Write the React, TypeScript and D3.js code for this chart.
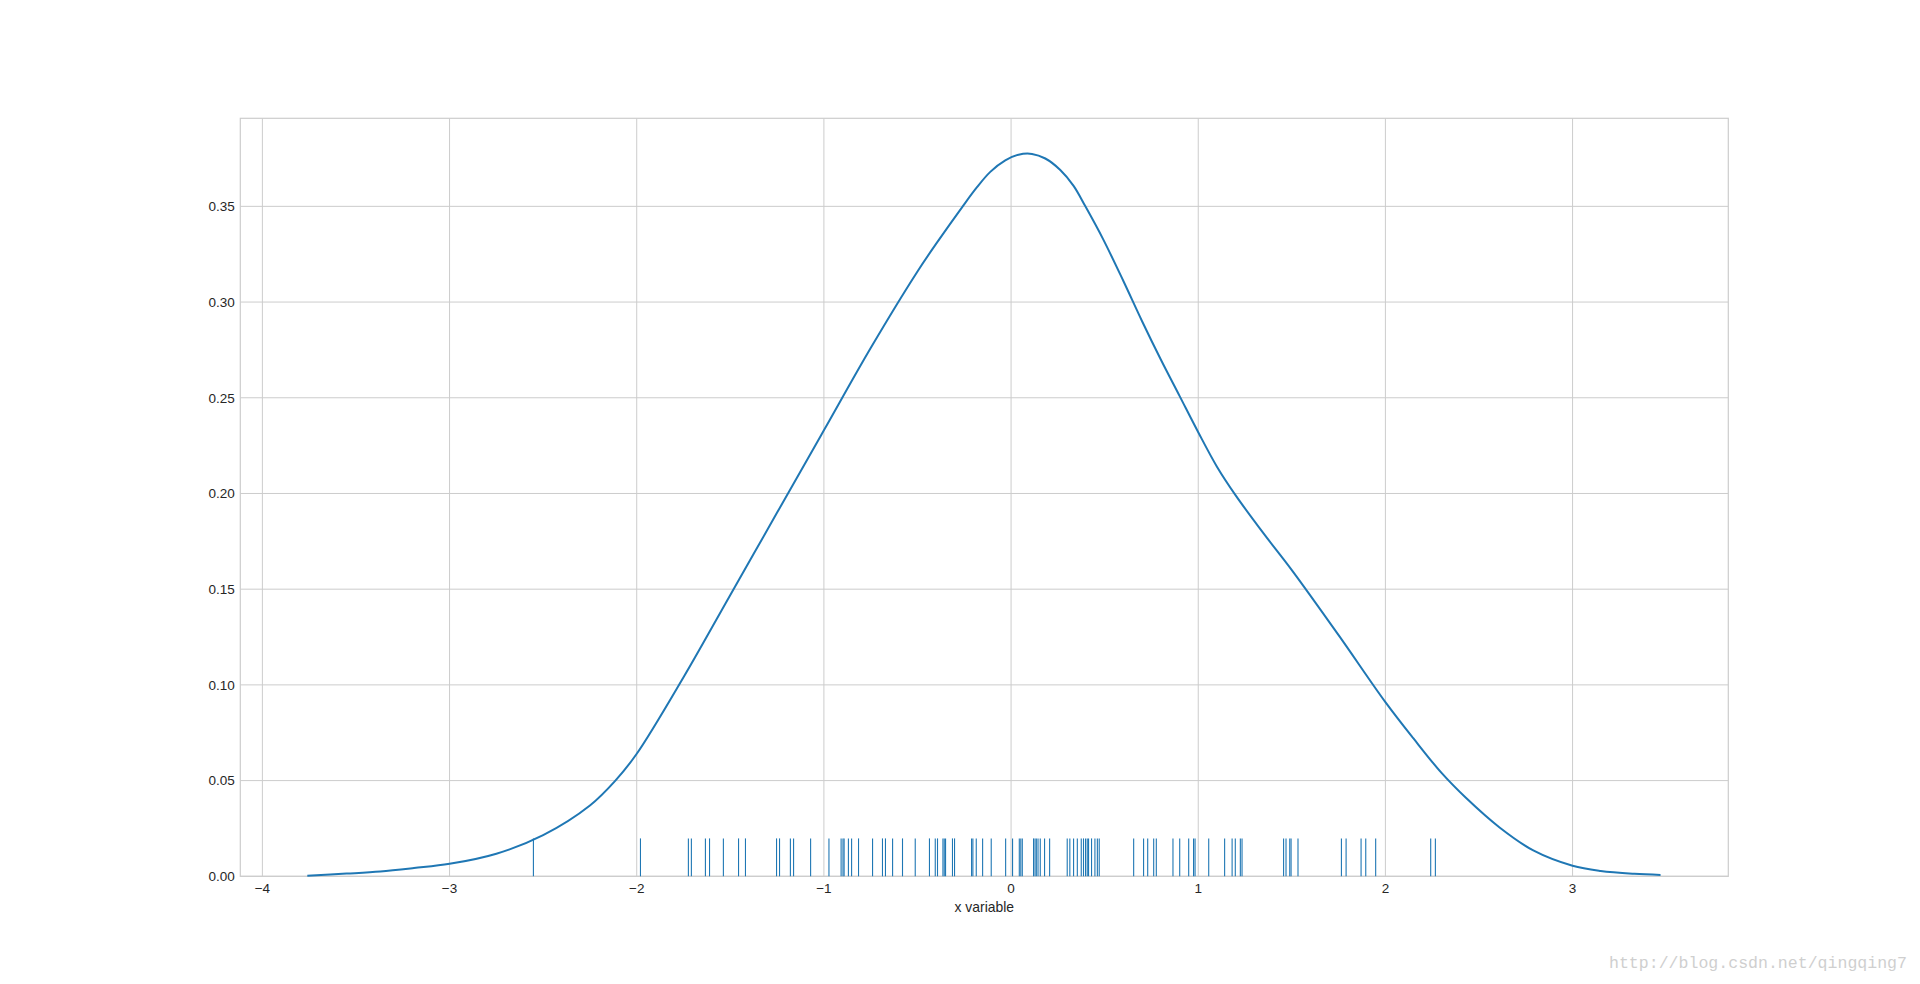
import React from "react";
import * as d3 from "d3";

const W = 1920;
const H = 984;
const plot = { left: 240.3, right: 1728.3, top: 118.3, bottom: 876.3 };

const xDomain = [-4.118, 3.832];
const yDomain = [0, 0.396];
const xTicks = [-4, -3, -2, -1, 0, 1, 2, 3];
const yTicks = [0, 0.05, 0.1, 0.15, 0.2, 0.25, 0.3, 0.35];
const xLabel = "x variable";
const watermark = "http://blog.csdn.net/qingqing7";

// density curve
const kdeX = [
  -3.76, -3.55, -3.37, -3.19, -3.0, -2.75, -2.5, -2.25, -2.114, -2.0,
  -1.75, -1.5, -1.25, -1.0, -0.75, -0.5, -0.382, -0.262, -0.182, -0.111, -0.031,
  0.04, 0.112, 0.183, 0.263, 0.334, 0.397, 0.491, 0.6, 0.7, 0.8, 0.9, 1.0, 1.1,
  1.2, 1.35, 1.5, 1.75, 2.0, 2.15, 2.3, 2.43, 2.61, 2.79, 3.0, 3.15, 3.33, 3.47,
];
const kdeY = [
  0.0003, 0.0014, 0.0025, 0.0043, 0.0065, 0.0118, 0.0215, 0.037, 0.05, 0.064,
  0.104, 0.147, 0.19, 0.233, 0.276, 0.316, 0.333, 0.3495, 0.36, 0.368, 0.374,
  0.377, 0.3774, 0.375, 0.369, 0.3607, 0.35, 0.333, 0.311, 0.29, 0.27, 0.251, 0.232, 0.214,
  0.199, 0.179, 0.16, 0.126, 0.091, 0.072, 0.054, 0.041, 0.0255, 0.0135, 0.0055, 0.0028, 0.0013, 0.0007,
];

// rug observations
const rugValues = [
  -2.552, -1.98, -1.724, -1.708, -1.633, -1.611, -1.537, -1.456, -1.419, -1.253,
  -1.237, -1.179, -1.162, -1.071, -0.973, -0.908, -0.898, -0.892, -0.869, -0.852,
  -0.815, -0.74, -0.687, -0.671, -0.633, -0.58, -0.512, -0.436, -0.405, -0.393,
  -0.364, -0.357, -0.35, -0.313, -0.302, -0.211, -0.204, -0.186, -0.152, -0.106,
  -0.029, 0.008, 0.044, 0.052, 0.06, 0.12, 0.128, 0.135, 0.144, 0.156, 0.179,
  0.206, 0.3, 0.314, 0.334, 0.354, 0.375, 0.387, 0.398, 0.407, 0.414, 0.43,
  0.448, 0.461, 0.471, 0.655, 0.708, 0.73, 0.762, 0.776, 0.865, 0.901, 0.949,
  0.975, 0.983, 1.056, 1.141, 1.181, 1.198, 1.225, 1.234, 1.456, 1.469, 1.489,
  1.496, 1.533, 1.765, 1.79, 1.87, 1.895, 1.948, 2.242, 2.267,
];

const BLUE = "#1f77b4";
const GRID = "#cccccc";
const TEXT = "#262626";
const FONT = "'Liberation Sans', Arial, sans-serif";

export default function App() {
  const x = d3.scaleLinear().domain(xDomain).range([plot.left, plot.right]);
  const y = d3.scaleLinear().domain(yDomain).range([plot.bottom, plot.top]);
  const rugH = (plot.bottom - plot.top) * 0.05;

  const pts: [number, number][] = kdeX.map((v, i) => [v, kdeY[i]]);
  const line = d3
    .line<[number, number]>()
    .x((d) => x(d[0]))
    .y((d) => y(d[1]))
    .curve(d3.curveCatmullRom.alpha(0.5));

  const fmtX = (v: number) => (v < 0 ? "\u2212" : "") + Math.abs(v);
  const fmtY = d3.format(".2f");

  return (
    <svg
      width={W}
      height={H}
      style={{ position: "absolute", left: 0, top: 0, display: "block", background: "#fff" }}
    >
      <rect x={0} y={0} width={W} height={H} fill="#fff" />
      {xTicks.map((t) => (
        <line key={"gx" + t} x1={x(t)} x2={x(t)} y1={plot.top} y2={plot.bottom} stroke={GRID} strokeWidth={1} />
      ))}
      {yTicks.map((t) => (
        <line key={"gy" + t} x1={plot.left} x2={plot.right} y1={y(t)} y2={y(t)} stroke={GRID} strokeWidth={1} />
      ))}
      <rect
        x={plot.left}
        y={plot.top}
        width={plot.right - plot.left}
        height={plot.bottom - plot.top}
        fill="none"
        stroke={GRID}
        strokeWidth={1.2}
      />
      <path d={line(pts) || ""} fill="none" stroke={BLUE} strokeWidth={2} strokeLinejoin="round" />
      {rugValues.map((v, i) => (
        <line key={"r" + i} x1={x(v)} x2={x(v)} y1={plot.bottom} y2={plot.bottom - rugH} stroke={BLUE} strokeWidth={1.1} />
      ))}
      {xTicks.map((t) => (
        <text key={"tx" + t} x={x(t)} y={plot.bottom + 16.4} textAnchor="middle" fontFamily={FONT} fontSize={13.5} fill={TEXT}>
          {fmtX(t)}
        </text>
      ))}
      {yTicks.map((t) => (
        <text key={"ty" + t} x={plot.left - 5.5} y={y(t)} dy="0.36em" textAnchor="end" fontFamily={FONT} fontSize={13.5} fill={TEXT}>
          {fmtY(t)}
        </text>
      ))}
      <text x={(plot.left + plot.right) / 2} y={911.5} textAnchor="middle" fontFamily={FONT} fontSize={13.9} fill={TEXT}>
        {xLabel}
      </text>
      <text x={1609} y={968} fontFamily="'Liberation Mono', 'DejaVu Sans Mono', monospace" fontSize={16.5} fill="#cfcfcf" textLength={298} lengthAdjust="spacingAndGlyphs">
        {watermark}
      </text>
    </svg>
  );
}
